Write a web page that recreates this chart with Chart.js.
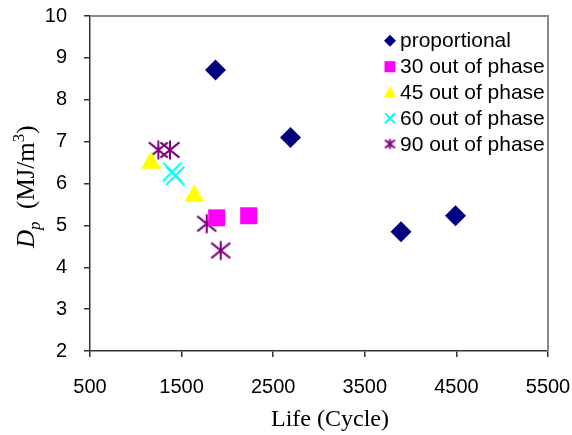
<!DOCTYPE html>
<html>
<head>
<meta charset="utf-8">
<script src="https://cdn.jsdelivr.net/npm/chart.js@4/dist/chart.umd.min.js"></script>
<style>
  html, body { margin: 0; padding: 0; background: #fff; }
  #wrap { width: 572px; height: 435px; }
</style>
</head>
<body>
<div id="wrap"><canvas id="myChart" width="572" height="435"></canvas></div>
<script>
// data
const seriesNames = ['proportional', '30 out of phase', '45 out of phase', '60 out of phase', '90 out of phase'];
const propLife = [1870, 2689, 3895, 4490];
const propDp = [8.71, 7.10, 4.85, 5.23];
const p30Life = [1883, 2232];
const p30Dp = [5.18, 5.23];
const p45Life = [1166, 1639];
const p45Dp = [6.49, 5.70];
const p60Life = [1398, 1431];
const p60Dp = [6.28, 6.18];
const p90Life = [1246, 1373, 1774, 1927];
const p90Dp = [6.80, 6.80, 5.04, 4.40];
const xTicks = [500, 1500, 2500, 3500, 4500, 5500];
const yTicks = [2, 3, 4, 5, 6, 7, 8, 9, 10];

const colors = ['#000080', '#FF00FF', '#FFFF00', '#00FFFF', '#800080'];

function toPoints(xs, ys) {
    return xs.map((x, i) => ({ x: x, y: ys[i] }));
}

// asterisk marker (vertical line + X), like the spreadsheet "star"
function makeStar(size, lw) {
    const c = document.createElement('canvas');
    c.width = size; c.height = size;
    const g = c.getContext('2d');
    g.strokeStyle = colors[4];
    g.lineWidth = lw;
    const m = size / 2, r = size / 2 - 1.5;
    g.beginPath();
    g.moveTo(m, m - r); g.lineTo(m, m + r);
    g.moveTo(m - r, m - r * 0.8); g.lineTo(m + r, m + r * 0.8);
    g.moveTo(m - r, m + r * 0.8); g.lineTo(m + r, m - r * 0.8);
    g.stroke();
    return c;
}
const starBig = makeStar(22, 2);
const starSmall = makeStar(13, 2);

// plot frame, legend and axis titles
const extras = {
    id: 'extras',
    afterDatasetsDraw(chart) {
        const ctx = chart.ctx;
        const a = chart.chartArea;
        ctx.save();
        // grey frame top / right
        ctx.strokeStyle = '#888888';
        ctx.lineWidth = 2;
        ctx.beginPath();
        ctx.moveTo(a.left, a.top);
        ctx.lineTo(a.right, a.top);
        ctx.lineTo(a.right, a.bottom);
        ctx.stroke();

        // legend inside the plot
        ctx.beginPath();
        ctx.rect(a.left, a.top, a.right - a.left - 1, a.bottom - a.top);
        ctx.clip();
        const mx = 390, tx = 400;
        const rows = [40.7, 66.7, 92, 118.3, 144];
        ctx.font = '21px "Liberation Sans", Arial, sans-serif';
        ctx.textBaseline = 'middle';
        ctx.textAlign = 'left';
        rows.forEach((y, i) => {
            ctx.fillStyle = colors[i];
            ctx.strokeStyle = colors[i];
            ctx.lineWidth = 2;
            ctx.beginPath();
            if (i === 0) {
                ctx.moveTo(mx, y - 6); ctx.lineTo(mx + 6, y); ctx.lineTo(mx, y + 6); ctx.lineTo(mx - 6, y);
                ctx.closePath(); ctx.fill();
            } else if (i === 1) {
                ctx.fillRect(mx - 5.5, y - 5.5, 11, 11);
            } else if (i === 2) {
                ctx.moveTo(mx, y - 6); ctx.lineTo(mx + 6, y + 5); ctx.lineTo(mx - 6, y + 5);
                ctx.closePath(); ctx.fill();
            } else if (i === 3) {
                ctx.moveTo(mx - 5, y - 5); ctx.lineTo(mx + 5, y + 5);
                ctx.moveTo(mx - 5, y + 5); ctx.lineTo(mx + 5, y - 5);
                ctx.stroke();
            } else {
                ctx.drawImage(starSmall, mx - 6.5, y - 6.5);
            }
            ctx.fillStyle = '#000';
            ctx.fillText(seriesNames[i], tx, y + 1);
        });
        ctx.restore();

        // axis titles
        ctx.save();
        ctx.fillStyle = '#000';
        ctx.textBaseline = 'alphabetic';
        ctx.textAlign = 'left';
        ctx.font = '24px "Liberation Serif", "Times New Roman", serif';
        ctx.fillText('Life (Cycle)', 271, 426);

        ctx.translate(33.5, 248);
        ctx.rotate(-Math.PI / 2);
        let px = 0;
        const big = '25px "Liberation Serif", "Times New Roman", serif';
        const bigI = 'italic 25px "Liberation Serif", "Times New Roman", serif';
        const small = '17px "Liberation Serif", "Times New Roman", serif';
        const smallI = 'italic 17px "Liberation Serif", "Times New Roman", serif';
        const parts = [
            [bigI, 'D', 0], [smallI, 'p', 6], [big, '  (MJ/m', 0], [small, '3', -10], [big, ')', 0]
        ];
        parts.forEach(p => {
            ctx.font = p[0];
            ctx.fillText(p[1], px, p[2]);
            px += ctx.measureText(p[1]).width;
        });
        ctx.restore();
    }
};

const ctx = document.getElementById('myChart').getContext('2d');
const myChart = new Chart(ctx, {
    type: 'scatter',
    data: {
        datasets: [
            {
                label: seriesNames[0],
                data: toPoints(propLife, propDp),
                pointStyle: 'rectRot',
                radius: 10.5,
                backgroundColor: colors[0],
                borderColor: colors[0],
                borderWidth: 0
            },
            {
                label: seriesNames[1],
                data: toPoints(p30Life, p30Dp),
                pointStyle: 'rect',
                radius: 12,
                backgroundColor: colors[1],
                borderColor: colors[1],
                borderWidth: 0
            },
            {
                label: seriesNames[2],
                data: toPoints(p45Life, p45Dp),
                pointStyle: 'triangle',
                radius: 11.5,
                backgroundColor: colors[2],
                borderColor: colors[2],
                borderWidth: 0
            },
            {
                label: seriesNames[3],
                data: toPoints(p60Life, p60Dp),
                pointStyle: 'crossRot',
                radius: 13,
                backgroundColor: colors[3],
                borderColor: colors[3],
                borderWidth: 2
            },
            {
                label: seriesNames[4],
                data: toPoints(p90Life, p90Dp),
                pointStyle: starBig,
                radius: 11,
                backgroundColor: colors[4],
                borderColor: colors[4]
            }
        ]
    },
    options: {
        responsive: false,
        animation: false,
        layout: { padding: { left: 0, right: 24, top: 16, bottom: 0 } },
        plugins: {
            legend: { display: false },
            tooltip: { enabled: false }
        },
        scales: {
            x: {
                type: 'linear',
                min: xTicks[0],
                max: xTicks[xTicks.length - 1],
                afterBuildTicks: s => { s.ticks = xTicks.map(v => ({ value: v })); },
                afterFit: s => { s.height = 84; s.paddingLeft = 0; s.paddingRight = 0; },
                grid: { drawOnChartArea: false, drawTicks: true, tickLength: 6, color: '#333', lineWidth: 1.5 },
                border: { display: true, color: '#333', width: 1.5 },
                ticks: {
                    color: '#000',
                    padding: 18,
                    maxRotation: 0,
                    callback: v => String(v),
                    font: { family: '"Liberation Sans", Arial, sans-serif', size: 20 }
                }
            },
            y: {
                type: 'linear',
                min: yTicks[0],
                max: yTicks[yTicks.length - 1],
                afterBuildTicks: s => { s.ticks = yTicks.map(v => ({ value: v })); },
                afterFit: s => { s.width = 90; s.paddingTop = 0; s.paddingBottom = 0; },
                grid: { drawOnChartArea: false, drawTicks: true, tickLength: 6, color: '#333', lineWidth: 1.5 },
                border: { display: true, color: '#333', width: 1.5 },
                ticks: {
                    color: '#000',
                    padding: 17,
                    callback: v => String(v),
                    font: { family: '"Liberation Sans", Arial, sans-serif', size: 20 }
                }
            }
        }
    },
    plugins: [extras]
});
</script>
</body>
</html>
